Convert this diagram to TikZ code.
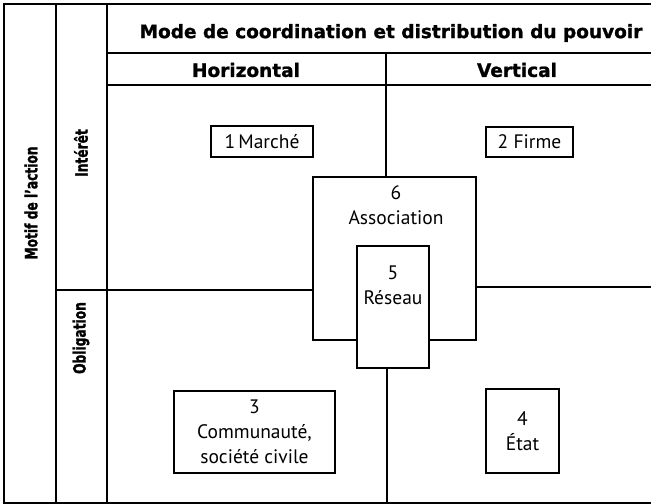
\documentclass[tikz,border=0pt]{standalone}
\usepackage{fontspec}
\setmainfont{PT Sans}
\newfontfamily\headfont{DejaVu Sans}[BoldFeatures={FakeBold=1.2}]
\newfontfamily\sidefont{DejaVu Sans}[FakeStretch=0.72,BoldFeatures={FakeBold=1.4}]
\begin{document}
\begin{tikzpicture}[x=1pt,y=-1pt,
  rule/.style={line width=1.3pt,line cap=rect},
  cell/.style={draw,line width=1.3pt,inner sep=0pt,align=center,font=\fontsize{19.5}{25}\selectfont},
  head/.style={font=\headfont\bfseries\fontsize{18.5}{20}\selectfont,inner sep=0pt},
  side/.style={font=\sidefont\bfseries\fontsize{17}{19}\selectfont,inner sep=0pt,rotate=90},
  txt/.style={font=\fontsize{19.5}{25}\selectfont,align=center,inner sep=0pt}]
\useasboundingbox (0,0) rectangle (657,504);

% outer frame (open on the right) and header rows
\draw[rule] (650,4) -- (4,4) -- (4,503) -- (650,503);
\draw[rule] (56,4) -- (56,503);
\draw[rule] (107,4) -- (107,503);
\draw[rule] (107,53) -- (650,53);
\draw[rule] (107,85) -- (650,85);

% header texts
\node[head] (title) at (391,33) {Mode de coordination et distribution du pouvoir};
\node[head] (horiz) at (246,70) {Horizontal};
\node[head] (vert) at (517,70) {Vertical};
\node[side] (motif) at (31,203) {Motif de l’action};
\node[side] (interet) at (81,153) {Intérêt};
\node[side] (oblig) at (81,338) {Obligation};

% central boxes: association with the network nested inside
\node[cell,minimum width=163pt,minimum height=163pt] (assoc) at (394.5,258.5) {};
\node[txt] (assoctxt) at (396,205) {6\\Association};
\node[cell,fill=white,minimum width=72pt,minimum height=122pt] (reseau) at (393,307) {};
\node[txt] (reseautxt) at (393,285) {5\\Réseau};

% quadrant dividers meeting the central boxes
\coordinate (topdiv) at (386,53);
\coordinate (botdiv) at (387,503);
\coordinate (leftdiv) at (56,290);
\coordinate (rightdiv) at (650,287);
\draw[rule] (topdiv) -- (topdiv |- assoc.north);
\draw[rule] (botdiv |- reseau.south) -- (botdiv);
\draw[rule] (leftdiv) -- (leftdiv -| assoc.west);
\draw[rule] (rightdiv -| assoc.east) -- (rightdiv);

% the four quadrant boxes
\node[cell,minimum width=102pt,minimum height=31pt] (marche) at (262,141.5) {1\,Marché};
\node[cell,minimum width=87pt,minimum height=30pt] (firme) at (529.5,142) {2 Firme};
\node[cell,minimum width=161pt,minimum height=82pt] (commu) at (254.5,432) {3\\Communauté,\\société civile};
\node[cell,minimum width=73pt,minimum height=84pt] (etat) at (522.5,431) {4\\État};
\end{tikzpicture}
\end{document}
